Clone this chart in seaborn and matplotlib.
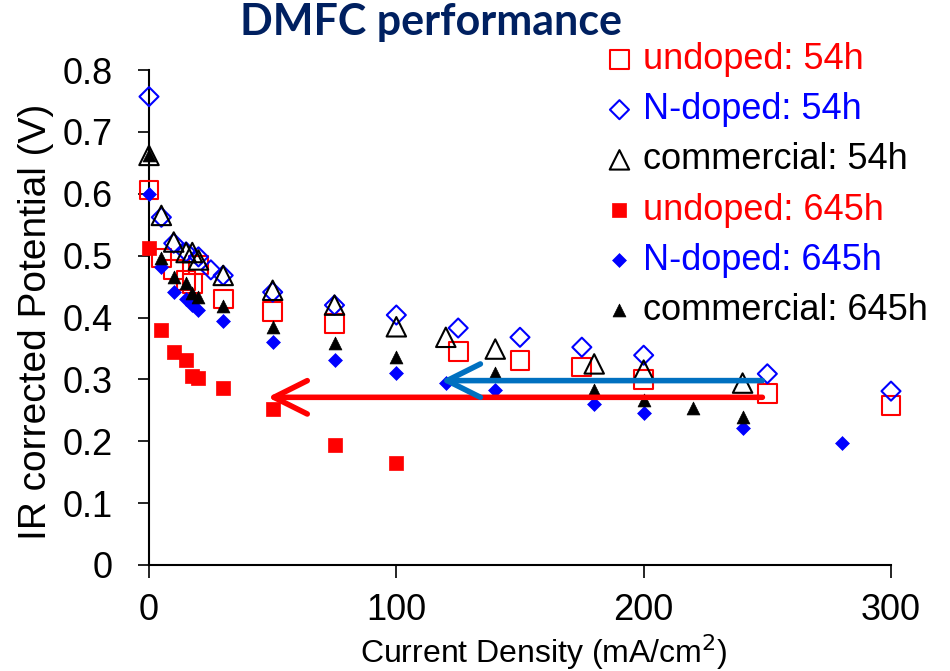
import matplotlib
matplotlib.use("Agg")
import matplotlib.pyplot as plt
import seaborn as sns
import pandas as pd

# ---- data ----
cd_undoped_54 = [0, 5, 10, 15, 17.5, 20, 30, 50, 75, 125, 150, 175, 200, 250, 300]
v_undoped_54 = [0.606, 0.496, 0.477, 0.46, 0.455, 0.485, 0.43, 0.41, 0.39, 0.345, 0.33, 0.32, 0.30, 0.277, 0.258]

cd_ndoped_54 = [0, 5, 10, 15, 20, 25, 30, 50, 75, 100, 125, 150, 175, 200, 250, 300]
v_ndoped_54 = [0.757, 0.562, 0.52, 0.506, 0.498, 0.477, 0.468, 0.441, 0.42, 0.404, 0.383, 0.368, 0.352, 0.339, 0.309, 0.281]

cd_comm_54 = [0, 5, 10, 15, 17.5, 20, 30, 50, 75, 100, 120, 140, 180, 200, 240]
v_comm_54 = [0.662, 0.565, 0.522, 0.505, 0.505, 0.493, 0.468, 0.444, 0.42, 0.385, 0.368, 0.349, 0.325, 0.315, 0.294]

cd_undoped_645 = [0, 5, 10, 15, 17.5, 20, 30, 50, 75, 100]
v_undoped_645 = [0.512, 0.38, 0.344, 0.331, 0.305, 0.302, 0.286, 0.252, 0.194, 0.165]

cd_ndoped_645 = [0, 5, 10, 15, 17.5, 20, 30, 50, 75, 100, 120, 140, 180, 200, 240, 280]
v_ndoped_645 = [0.60, 0.481, 0.441, 0.43, 0.42, 0.412, 0.395, 0.36, 0.331, 0.31, 0.294, 0.283, 0.26, 0.245, 0.221, 0.197]

cd_comm_645 = [0, 5, 10, 15, 17.5, 20, 30, 50, 75, 100, 140, 180, 200, 220, 240]
v_comm_645 = [0.662, 0.496, 0.466, 0.455, 0.44, 0.433, 0.419, 0.385, 0.359, 0.336, 0.31, 0.283, 0.266, 0.254, 0.239]

series_labels = ["undoped: 54h", "N-doped: 54h", "commercial: 54h",
                 "undoped: 645h", "N-doped: 645h", "commercial: 645h"]

# arrows (tail x, tip x, y)
red_arrow = [248, 48, 0.271]
blue_arrow = [248, 118, 0.298]

x_ticks = [0, 100, 200, 300]
y_ticks = [0, 0.1, 0.2, 0.3, 0.4, 0.5, 0.6, 0.7, 0.8]
y_tick_labels = ["0", "0.1", "0.2", "0.3", "0.4", "0.5", "0.6", "0.7", "0.8"]

# ---- style ----
sns.set_theme(style="ticks")
plt.rcParams["font.family"] = ["Liberation Sans", "DejaVu Sans"]

fig = plt.figure(figsize=(9.5, 6.71), dpi=100)
ax = fig.add_axes([149 / 950, 1 - 565 / 671, 742 / 950, 495 / 671])

data = [
    (cd_undoped_54, v_undoped_54, "s", 182, "none", "#FF0000", 1.5),
    (cd_ndoped_54, v_ndoped_54, "D", 94, "none", "#0000FF", 1.5),
    (cd_comm_54, v_comm_54, "^", 196, "none", "#000000", 1.5),
    (cd_undoped_645, v_undoped_645, "s", 94, "#FF0000", "#FF0000", 0.5),
    (cd_ndoped_645, v_ndoped_645, "D", 50, "#0000FF", "#0000FF", 0.5),
    (cd_comm_645, v_comm_645, "^", 86, "#000000", "#000000", 0.5),
]
text_colors = ["#FF0000", "#0000FF", "#000000", "#FF0000", "#0000FF", "#000000"]

for (xs, ys, mk, s, fc, ec, lw), lab in zip(data, series_labels):
    df = pd.DataFrame({"cd": xs, "v": ys})
    sns.scatterplot(data=df, x="cd", y="v", marker=mk, s=s, facecolors=fc,
                    edgecolors=ec, linewidths=lw, label=lab, ax=ax,
                    clip_on=False, zorder=3)

# arrows
for (x0, x1, yy), col in [(red_arrow, "#FF0000"), (blue_arrow, "#0070C0")]:
    ax.annotate("", xy=(x1, yy), xytext=(x0, yy),
                arrowprops=dict(arrowstyle="->,head_length=1.2,head_width=0.6",
                                color=col, lw=4, shrinkA=0, shrinkB=0,
                                mutation_scale=20),
                zorder=4)

ax.set_xlim(0, 300)
ax.set_ylim(0, 0.8)
ax.set_xticks(x_ticks)
ax.set_yticks(y_ticks)
ax.set_yticklabels(y_tick_labels)
ax.tick_params(axis="both", labelsize=26, colors="black", width=1.2)
ax.tick_params(axis="y", length=8, pad=18)
ax.tick_params(axis="x", length=9, pad=11)
sns.despine(ax=ax)
for sp in ["left", "bottom"]:
    ax.spines[sp].set_linewidth(1.5)
    ax.spines[sp].set_color("black")

ax.set_xlabel("Current Density (mA/cm$^2$)", fontsize=23, color="black")
ax.set_ylabel("IR corrected Potential (V)", fontsize=28, color="black")
ax.xaxis.set_label_coords(0.532, -0.135)
ax.yaxis.set_label_coords(-0.128, 0.491)

fig.text(431 / 950, 1 - 22 / 671, "DMFC performance", ha="center", va="center",
         fontsize=31, fontweight="bold", color="#002060", family=["Lato", "DejaVu Sans"])

leg = ax.legend(loc="upper left", bbox_to_anchor=(605 / 950, 1 - 42 / 671),
                bbox_transform=fig.transFigure, frameon=False, fontsize=26,
                handlelength=0.8, handletextpad=0.25, labelspacing=0.42,
                borderpad=0, borderaxespad=0)
for t, c in zip(leg.get_texts(), text_colors):
    t.set_color(c)

fig.savefig("out.png", dpi=100)
